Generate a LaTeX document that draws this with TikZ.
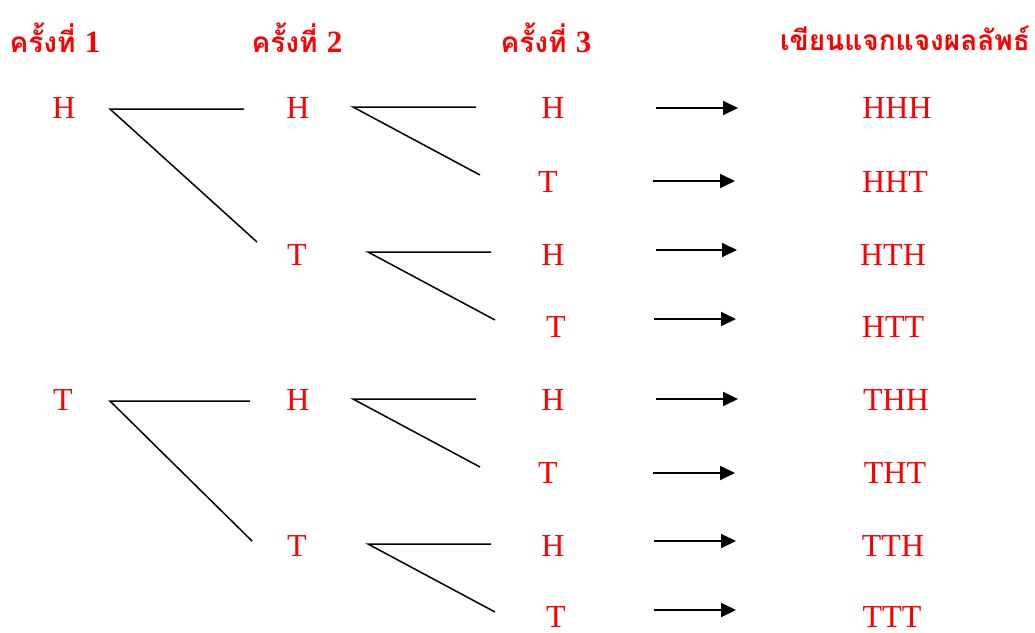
\documentclass[tikz,border=0pt]{standalone}
\usepackage{fontspec}
\setmainfont{Liberation Serif}
\newfontfamily\thaifont[Script=Thai]{Loma}
\usetikzlibrary{arrows.meta}
\definecolor{cRed}{RGB}{255,0,0}
\newcommand{\tossno}[1]{{\rmfamily\fontsize{31}{34}\selectfont #1}}
\tikzset{
	head/.style   ={text=cRed, font=\thaifont\bfseries\fontsize{28}{32}\selectfont, inner sep=0pt},
	coin/.style   ={text=cRed, font=\fontsize{32}{36}\selectfont, inner sep=0pt},
	branch/.style ={line width=1.5pt},
	toarrow/.style={-{Triangle[length=15pt, width=14pt]}, line width=1.8pt},
}
\begin{document}
\begin{tikzpicture}[x=1pt, y=-1pt]
	\useasboundingbox (0,0) rectangle (1035,632);
	% headings
	\node[head] (h1) at (55,38) {ครั้งที่ \tossno{1}};
	\node[head] (h2) at (297,38) {ครั้งที่ \tossno{2}};
	\node[head] (h3) at (546,38) {ครั้งที่ \tossno{3}};
	\node[head] (h4) at (905,38) {เขียนแจกแจงผลลัพธ์};
	% first toss
	\node[coin] (a1) at (64,108) {H};
	\node[coin] (a2) at (63,400) {T};
	% second toss
	\node[coin] (b1) at (298,108) {H};
	\node[coin] (b2) at (297,255) {T};
	\node[coin] (b3) at (298,400) {H};
	\node[coin] (b4) at (297,546) {T};
	% third toss
	\foreach \n/\x/\y/\t in {1/553/108/H, 2/548/182/T, 3/553/255/H, 4/556/327/T,
		5/553/400/H, 6/548/473/T, 7/553/546/H, 8/556/617/T}
		\node[coin] (c\n) at (\x,\y) {\t};
	% outcomes
	\foreach \n/\x/\y/\t in {1/897/108/HHH, 2/895/182/HHT, 3/893/255/HTH, 4/893/327/HTT,
		5/896/400/THH, 6/895/473/THT, 7/893/546/TTH, 8/892/617/TTT}
		\node[coin] (r\n) at (\x,\y) {\t};
	% branches from the first toss
	\coordinate (as1) at (110,109);
	\coordinate (au1) at (244,109);
	\coordinate (ad1) at (257,242);
	\coordinate (as2) at (110,401);
	\coordinate (au2) at (250,401);
	\coordinate (ad2) at (252,541);
	\draw[branch] (au1) -- (as1) -- (ad1);
	\draw[branch] (au2) -- (as2) -- (ad2);
	% branches from the second toss
	\foreach \n/\x/\y in {1/353/107, 2/368/252, 3/353/399, 4/368/544} {
		\coordinate (bs\n) at (\x,\y);
		\coordinate (bu\n) at (\x+123,\y);
		\coordinate (bd\n) at (\x+127,\y+68);
		\draw[branch] (bu\n) -- (bs\n) -- (bd\n);
	}
	% arrows to the outcomes
	\foreach \n/\xa/\xb/\y in {1/656/738/108, 2/653/735/181, 3/656/737/250, 4/654/736/319,
		5/656/738/399, 6/653/735/473, 7/654/736/541, 8/654/736/610} {
		\coordinate (p\n) at (\xa,\y);
		\coordinate (q\n) at (\xb,\y);
		\draw[toarrow] (p\n) -- (q\n);
	}
\end{tikzpicture}
\end{document}
